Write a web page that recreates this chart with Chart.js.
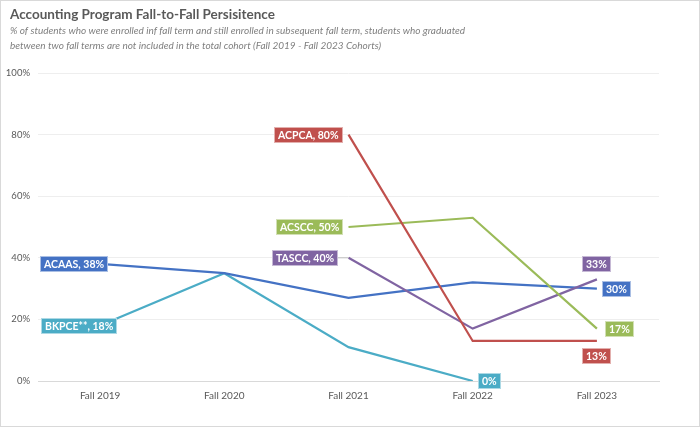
<!DOCTYPE html>
<html>
<head>
<meta charset="utf-8">
<script src="https://cdn.jsdelivr.net/npm/chart.js@4.4.1/dist/chart.umd.min.js"></script>
<style>
  html, body { margin: 0; padding: 0; background: #fff; }
  #wrap { width: 700px; height: 427px; position: relative; }
</style>
</head>
<body>
<div id="wrap"><canvas id="line-chart"></canvas></div>
<script>
const categories = ["Fall 2019", "Fall 2020", "Fall 2021", "Fall 2022", "Fall 2023"];
const acaas = [38, 35, 27, 32, 30];
const bkpce = [18, 35, 11, 0, null];
const acpca = [null, null, 80, 13, 13];
const acscc = [null, null, 50, 53, 17];
const tascc = [null, null, 40, 17, 33];
const yTicks = [0, 20, 40, 60, 80, 100];

const titleText = "Accounting Program Fall-to-Fall Persisitence";
const subtitleLines = [
  "% of students who were enrolled inf fall term and still enrolled in subsequent fall term, students who graduated",
  "between two fall terms are not included in the total cohort (Fall 2019 - Fall 2023 Cohorts)"
];

const FONT = "Lato, 'Open Sans', sans-serif";
const GREY = "#595959";

// label settings per series: which point, where, how far
const labelSpec = {
  ACAAS: [{ i: 0, side: "left", gap: -8, name: true }, { i: 4, side: "right", gap: 5 }],
  "BKPCE**": [{ i: 0, side: "left", gap: -17, name: true }, { i: 3, side: "right", gap: 5 }],
  ACPCA: [{ i: 2, side: "left", gap: 6, name: true }, { i: 4, side: "below", gap: 7 }],
  ACSCC: [{ i: 2, side: "left", gap: 6, name: true }, { i: 4, side: "right", gap: 8 }],
  TASCC: [{ i: 2, side: "left", gap: 11, name: true, leader: true }, { i: 4, side: "above", gap: 7 }]
};

const pointLabels = {
  id: "pointLabels",
  afterDatasetsDraw(chart) {
    const ctx = chart.ctx;
    ctx.save();
    ctx.font = "bold 10.5px " + FONT;
    ctx.textBaseline = "middle";
    chart.data.datasets.forEach((ds, di) => {
      const meta = chart.getDatasetMeta(di);
      (labelSpec[ds.label] || []).forEach(s => {
        const pt = meta.data[s.i];
        const v = ds.data[s.i];
        const text = (s.name ? ds.label + ", " : "") + v + "%";
        const w = Math.round(ctx.measureText(text).width + 8);
        const h = 16;
        let x0, y0;
        if (s.side === "left") { x0 = pt.x - s.gap - w; y0 = pt.y - h / 2; }
        else if (s.side === "right") { x0 = pt.x + s.gap; y0 = pt.y - h / 2; }
        else if (s.side === "above") { x0 = pt.x - w / 2; y0 = pt.y - s.gap - h; }
        else { x0 = pt.x - w / 2; y0 = pt.y + s.gap; }
        x0 = Math.round(x0); y0 = Math.round(y0);
        if (s.leader) {
          ctx.strokeStyle = "#bfbfbf";
          ctx.lineWidth = 1;
          ctx.beginPath();
          ctx.moveTo(x0 + w, pt.y);
          ctx.lineTo(pt.x, pt.y);
          ctx.stroke();
        }
        ctx.fillStyle = ds.borderColor;
        ctx.fillRect(x0, y0, w, h);
        ctx.strokeStyle = "rgba(255,255,255,0.55)";
        ctx.lineWidth = 1;
        ctx.strokeRect(x0 + 0.5, y0 + 0.5, w - 1, h - 1);
        ctx.fillStyle = "#fff";
        ctx.textAlign = "left";
        ctx.fillText(text, x0 + 4, y0 + h / 2 + 0.5);
      });
    });
    ctx.restore();
  }
};

const frame = {
  id: "frame",
  beforeDraw(chart) {
    const ctx = chart.ctx;
    ctx.save();
    ctx.fillStyle = "#fff";
    ctx.fillRect(0, 0, chart.width, chart.height);
    ctx.restore();
  },
  afterDraw(chart) {
    const ctx = chart.ctx;
    ctx.save();
    ctx.textAlign = "left";
    ctx.textBaseline = "middle";
    ctx.fillStyle = GREY;
    ctx.font = "bold 13.5px " + FONT;
    ctx.fillText(titleText, 10, 15);
    ctx.fillStyle = "#7f7f7f";
    ctx.font = "italic 10px " + FONT;
    subtitleLines.forEach((t, k) => ctx.fillText(t, 10, 31 + k * 15));
    ctx.strokeStyle = "#d9d9d9";
    ctx.lineWidth = 1;
    ctx.strokeRect(0.5, 0.5, chart.width - 1, chart.height - 1);
    ctx.restore();
  }
};

function series(label, data, color) {
  return {
    label: label,
    data: data,
    borderColor: color,
    backgroundColor: color,
    borderWidth: 2.2,
    pointRadius: 0,
    tension: 0,
    spanGaps: false
  };
}

new Chart(document.getElementById("line-chart"), {
  type: "line",
  data: {
    labels: categories,
    datasets: [
      series("ACPCA", acpca, "#C0504D"),
      series("ACSCC", acscc, "#9BBB59"),
      series("TASCC", tascc, "#8064A2"),
      series("ACAAS", acaas, "#4472C4"),
      series("BKPCE**", bkpce, "#4BACC6")
    ]
  },
  options: {
    responsive: true,
    maintainAspectRatio: false,
    animation: false,
    layout: { padding: { left: 0, right: 41, top: 73, bottom: 24 } },
    plugins: {
      legend: { display: false },
      tooltip: { enabled: false },
      title: { display: false }
    },
    scales: {
      x: {
        offset: true,
        grid: { display: false },
        border: { color: "#d9d9d9" },
        ticks: { color: GREY, font: { family: FONT, size: 10 }, padding: 1 }
      },
      y: {
        min: 0,
        max: 100,
        afterBuildTicks: axis => { axis.ticks = yTicks.map(v => ({ value: v })); },
        afterFit: axis => { axis.width = 38; },
        grid: { color: "#eeeeee", drawTicks: false },
        border: { display: false },
        ticks: {
          color: GREY,
          font: { family: FONT, size: 9.5 },
          padding: 8,
          callback: v => v + "%"
        }
      }
    }
  },
  plugins: [frame, pointLabels]
});
</script>
</body>
</html>
